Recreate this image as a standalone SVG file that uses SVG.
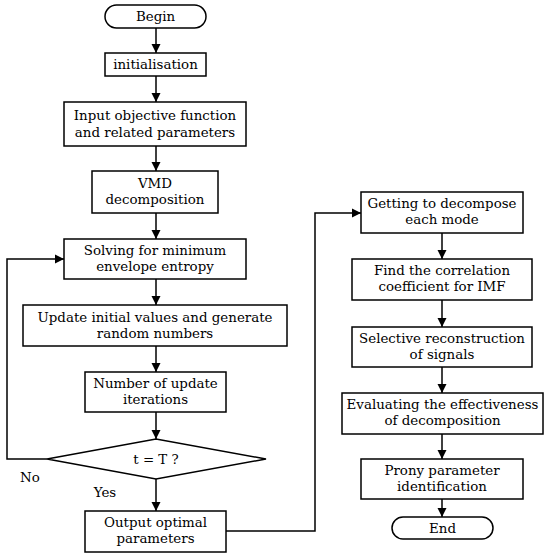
<svg xmlns="http://www.w3.org/2000/svg" width="550" height="557" viewBox="0 0 550 557">
<style>
.b{fill:#fff;stroke:#000;stroke-width:1.5}
.t{font-family:'DejaVu Serif','Liberation Serif',serif;font-size:13.4px;fill:#000;text-anchor:middle}
.c{fill:none;stroke:#000;stroke-width:1.5}
</style>
<defs>
<marker id="a" markerWidth="10" markerHeight="10" refX="9" refY="5" orient="auto" markerUnits="userSpaceOnUse">
<path d="M0,0.5 L9,5 L0,9.5 Z" fill="#000"/>
</marker>
</defs>
<rect width="550" height="557" fill="#fff"/>
<g id="connectors">
<line class="c" x1="156" y1="28" x2="156" y2="53" marker-end="url(#a)"/>
<line class="c" x1="156" y1="76" x2="156" y2="102" marker-end="url(#a)"/>
<line class="c" x1="156" y1="146" x2="156" y2="171" marker-end="url(#a)"/>
<line class="c" x1="156" y1="213" x2="156" y2="239" marker-end="url(#a)"/>
<line class="c" x1="156" y1="279" x2="156" y2="305" marker-end="url(#a)"/>
<line class="c" x1="156" y1="346" x2="156" y2="372" marker-end="url(#a)"/>
<line class="c" x1="156" y1="412" x2="156" y2="439" marker-end="url(#a)"/>
<line class="c" x1="156" y1="479" x2="156" y2="511" marker-end="url(#a)"/>
<polyline class="c" points="47,459 7,459 7,259 64,259" marker-end="url(#a)"/>
<polyline class="c" points="226,531 315,531 315,213 361,213" marker-end="url(#a)"/>
<line class="c" x1="442" y1="233" x2="442" y2="259" marker-end="url(#a)"/>
<line class="c" x1="442" y1="300" x2="442" y2="327" marker-end="url(#a)"/>
<line class="c" x1="442" y1="367" x2="442" y2="393" marker-end="url(#a)"/>
<line class="c" x1="442" y1="434" x2="442" y2="459" marker-end="url(#a)"/>
<line class="c" x1="442" y1="499" x2="442" y2="517" marker-end="url(#a)"/>
</g>
<g id="begin"><rect class="b" x="105" y="5" width="101" height="23" rx="11.5"/><text class="t" x="155.5" y="21">Begin</text></g>
<g id="init"><rect class="b" x="105" y="53" width="101" height="23"/><text class="t" x="155.5" y="69">initialisation</text></g>
<g id="input"><rect class="b" x="64" y="102" width="182" height="44"/><text class="t" x="155" y="120">Input objective function</text><text class="t" x="155" y="137">and related parameters</text></g>
<g id="vmd"><rect class="b" x="92" y="171" width="126" height="42"/><text class="t" x="155" y="188">VMD</text><text class="t" x="155" y="204">decomposition</text></g>
<g id="solving"><rect class="b" x="64" y="239" width="182" height="40"/><text class="t" x="155" y="255">Solving for minimum</text><text class="t" x="155" y="271">envelope entropy</text></g>
<g id="update"><rect class="b" x="23" y="305" width="264" height="41"/><text class="t" x="155" y="322">Update initial values and generate</text><text class="t" x="155" y="338">random numbers</text></g>
<g id="number"><rect class="b" x="85" y="372" width="141" height="40"/><text class="t" x="155.5" y="388">Number of update</text><text class="t" x="155.5" y="404">iterations</text></g>
<g id="decision"><polygon class="b" points="47,459 156,439 266,459 156,479"/><text class="t" x="156" y="464">t = T ?</text></g>
<g id="output"><rect class="b" x="85" y="511" width="141" height="41"/><text class="t" x="155.5" y="527">Output optimal</text><text class="t" x="155.5" y="543">parameters</text></g>
<text class="t" x="30" y="482">No</text>
<text class="t" x="105" y="497">Yes</text>
<g id="getting"><rect class="b" x="361" y="192" width="162" height="41"/><text class="t" x="442" y="208">Getting to decompose</text><text class="t" x="442" y="224">each mode</text></g>
<g id="find"><rect class="b" x="352" y="259" width="180" height="41"/><text class="t" x="442" y="275">Find the correlation</text><text class="t" x="442" y="291">coefficient for IMF</text></g>
<g id="selective"><rect class="b" x="352" y="327" width="180" height="40"/><text class="t" x="442" y="343">Selective reconstruction</text><text class="t" x="442" y="359">of signals</text></g>
<g id="evaluating"><rect class="b" x="342" y="393" width="201" height="41"/><text class="t" x="442.5" y="409">Evaluating the effectiveness</text><text class="t" x="442.5" y="425">of decomposition</text></g>
<g id="prony"><rect class="b" x="361" y="459" width="162" height="40"/><text class="t" x="442" y="475">Prony parameter</text><text class="t" x="442" y="491">identification</text></g>
<g id="end"><rect class="b" x="392" y="517" width="101" height="22" rx="11"/><text class="t" x="442.5" y="533">End</text></g>
</svg>
